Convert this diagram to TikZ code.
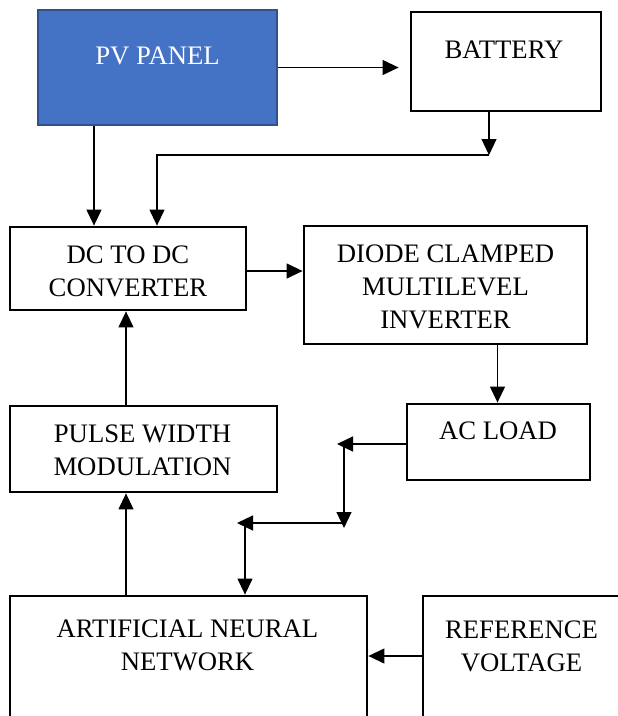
\documentclass[tikz,border=0pt]{standalone}
\usepackage{fontspec}
\setmainfont{Liberation Serif}
\usetikzlibrary{arrows.meta}

\definecolor{pvfill}{HTML}{4472C4}
\definecolor{pvedge}{HTML}{2F528F}

\tikzset{
  block/.style={draw=black, line width=2.8pt, fill=white, inner sep=0pt},
  pvblock/.style={draw=pvedge, line width=2pt, fill=pvfill, inner sep=0pt},
  txt/.style={font=\fontsize{26.7}{33}\selectfont, align=center, inner sep=0pt, anchor=north},
  arr/.style={line width=1.2pt, -{Triangle[length=16pt,width=15pt]}}
}

\begin{document}
\begin{tikzpicture}[x=1pt,y=-1pt]
  \useasboundingbox (0,0) rectangle (618,716);
  \clip (0,0) rectangle (618,716);

  % blocks
  \node[pvblock, minimum width=239pt, minimum height=115pt] (pv)  at (157.5,67.5) {};
  \node[block,   minimum width=190pt, minimum height=99pt]  (bat) at (506,61.5)   {};
  \node[block,   minimum width=236pt, minimum height=83pt]  (dc)  at (128,268.5)  {};
  \node[block,   minimum width=283pt, minimum height=118pt] (dio) at (445.5,285)  {};
  \node[block,   minimum width=183pt, minimum height=76pt]  (ac)  at (498.5,442)  {};
  \node[block,   minimum width=267pt, minimum height=86pt]  (pwm) at (143.5,449)  {};
  \node[block,   minimum width=357pt, minimum height=134pt] (ann) at (188.5,663)  {};
  \node[block,   minimum width=197pt, minimum height=134pt] (ref) at (521.5,663)  {};

  % block texts
  \node[txt, text=white] (pvT)  at (157.5,47)  {PV PANEL};
  \node[txt] (batT) at (504,41)    {BATTERY};
  \node[txt] (dcT)  at (128,246)   {DC TO DC\\CONVERTER};
  \node[txt] (dioT) at (445.5,245) {DIODE CLAMPED\\MULTILEVEL\\INVERTER};
  \node[txt] (acT)  at (498,422)   {AC LOAD};
  \node[txt] (pwmT) at (142.5,425) {PULSE WIDTH\\MODULATION};
  \node[txt] (annT) at (187.5,620) {ARTIFICIAL NEURAL\\NETWORK};
  \node[txt] (refT) at (521.5,620.5) {REFERENCE\\VOLTAGE};

  % helper points for the connectors
  \coordinate (xpv)  at (94,0);
  \coordinate (xbat) at (489,0);
  \coordinate (jb)   at (489,155);
  \coordinate (jd)   at (157,155);
  \coordinate (ydc)  at (0,271);
  \coordinate (xac)  at (497.5,0);
  \coordinate (k1)   at (337,444);
  \coordinate (k2s)  at (344,447);
  \coordinate (k2)   at (344,528);
  \coordinate (k3s)  at (342,523);
  \coordinate (k3)   at (237,523);
  \coordinate (k4s)  at (245,523);
  \coordinate (xfb)  at (126,0);
  \coordinate (yref) at (0,656);

  % connectors
  \draw[arr, shorten >=11pt] (pv.east) -- (pv.east -| bat.west);
  \draw[arr] (bat.south -| xbat) -- (jb);
  \draw[arr] (jb) -- (jd) -- (jd |- dc.north);
  \draw[arr] (pv.south -| xpv) -- (dc.north -| xpv);
  \draw[arr] (dc.east |- ydc) -- (dio.west |- ydc);
  \draw[arr] (dio.south -| xac) -- (ac.north -| xac);
  \draw[arr] (ac.west |- k1) -- (k1);
  \draw[arr] (k2s) -- (k2);
  \draw[arr] (k3s) -- (k3);
  \draw[arr] (k4s) -- (k4s |- ann.north);
  \draw[arr] (pwm.north -| xfb) -- (dc.south -| xfb);
  \draw[arr] (ann.north -| xfb) -- (pwm.south -| xfb);
  \draw[arr] (ref.west |- yref) -- (ann.east |- yref);
\end{tikzpicture}
\end{document}
